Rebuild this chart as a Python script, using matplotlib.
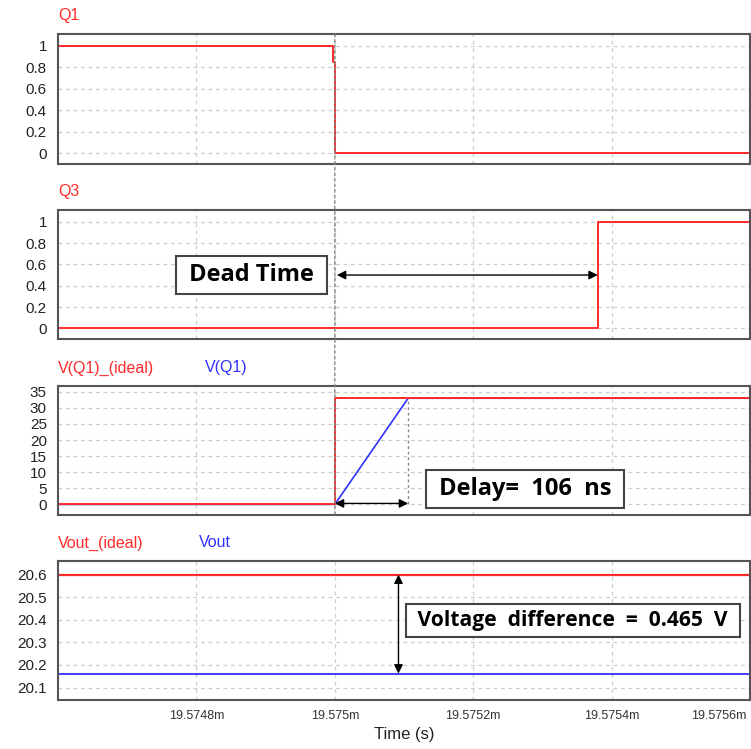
import matplotlib
matplotlib.use("Agg")
import matplotlib.pyplot as plt
from matplotlib.patches import ConnectionPatch
from matplotlib.transforms import ScaledTranslation

# time axis in ms (labels carry the "m" suffix like the simulator)
t_start, t_end = 19.5746, 19.5756
x_ticks = [19.5748, 19.5750, 19.5752, 19.5754, 19.5756]
x_tick_labels = ['19.5748m', '19.575m', '19.5752m', '19.5754m', '19.5756m']

# Q1 gate signal
q1_t = [19.5746, 19.574998, 19.574998, 19.575, 19.575, 19.5756]
q1_v = [1, 1, 0.85, 0.85, 0, 0]

# Q3 gate signal
q3_t = [19.5746, 19.57538, 19.57538, 19.5756]
q3_v = [0, 0, 1, 1]

# switch voltage, ideal and real
vq1_ideal_t = [19.5746, 19.575, 19.575, 19.5756]
vq1_ideal_v = [0, 0, 33, 33]
vq1_t = [19.5746, 19.575, 19.575106, 19.5756]
vq1_v = [0, 0, 33, 33]

# output voltage
vout_t = [19.5746, 19.5756]
vout_ideal_v = [20.600, 20.600]
vout_v = [20.162, 20.162]

gate_ticks = [0, 0.2, 0.4, 0.6, 0.8, 1]
gate_labels = ['0', '0.2', '0.4', '0.6', '0.8', '1']
vq_ticks = [0, 5, 10, 15, 20, 25, 30, 35]
vout_ticks = [20.1, 20.2, 20.3, 20.4, 20.5, 20.6]

RED = '#ff2a2a'
BLUE = '#3030ff'
FRAME = '#555555'

fig = plt.figure(figsize=(7.51, 7.49), dpi=100)
left, width = 58 / 751, 692 / 751
ax1 = fig.add_axes([left, 1 - 164 / 749, width, 130 / 749])
ax2 = fig.add_axes([left, 1 - 339 / 749, width, 129 / 749])
ax3 = fig.add_axes([left, 1 - 515 / 749, width, 129 / 749])
ax4 = fig.add_axes([left, 1 - 700 / 749, width, 139 / 749])

tick_font = ['Liberation Sans', 'DejaVu Sans']
box_font = ['Open Sans', 'DejaVu Sans']

for ax in (ax1, ax2, ax3, ax4):
    ax.set_xlim(t_start, t_end)
    ax.set_xticks(x_ticks)
    for s in ax.spines.values():
        s.set_color(FRAME)
        s.set_linewidth(1.5)
    ax.tick_params(length=0, pad=8, labelsize=11, colors='#222222')
    ax.grid(axis='y', color='#cccccc', linestyle=(0, (3, 3)), linewidth=0.9)
    ax.grid(axis='x', color='#c9d2c2', linestyle=(0, (3, 3)), linewidth=0.9)

for ax in (ax1, ax2, ax3):
    ax.set_xticklabels([])

# panel 1
ax1.plot(q1_t, q1_v, color=RED, lw=1.4)
ax1.set_ylim(-0.1, 1.11)
ax1.set_yticks(gate_ticks, gate_labels, family=tick_font)

# panel 2
ax2.plot(q3_t, q3_v, color=RED, lw=1.4)
ax2.set_ylim(-0.1, 1.11)
ax2.set_yticks(gate_ticks, gate_labels, family=tick_font)

# panel 3
ax3.plot(vq1_t, vq1_v, color=BLUE, lw=1.2)
ax3.plot(vq1_ideal_t, vq1_ideal_v, color=RED, lw=1.4)
ax3.set_ylim(-3.3, 36.8)
ax3.set_yticks(vq_ticks, [str(v) for v in vq_ticks], family=tick_font)

# panel 4
ax4.plot(vout_t, vout_v, color=BLUE, lw=1.3)
ax4.plot(vout_t, vout_ideal_v, color=RED, lw=1.6)
ax4.set_ylim(20.045, 20.66)
ax4.set_yticks(vout_ticks, [f'{v:.1f}' for v in vout_ticks], family=tick_font)
ax4.set_xticklabels(x_tick_labels, family=tick_font, fontsize=9, color='#333333')
ax4.tick_params(axis='x', pad=7)
last = ax4.get_xticklabels()[-1]
last.set_transform(last.get_transform() + ScaledTranslation(-0.31, 0, fig.dpi_scale_trans))
ax4.set_xlabel('Time (s)', family=tick_font, fontsize=12, color='#222222', labelpad=4)

# trace names above each panel
def trace_name(ax, x, text, color):
    ax.annotate(text, xy=(x, 1), xycoords='axes fraction', xytext=(0, 13),
                textcoords='offset points', ha='left', va='center',
                fontsize=11.5, color=color, family=tick_font)

trace_name(ax1, 0, 'Q1', RED)
trace_name(ax2, 0, 'Q3', RED)
trace_name(ax3, 0, 'V(Q1)_(ideal)', RED)
trace_name(ax3, 0.212, 'V(Q1)', BLUE)
trace_name(ax4, 0, 'Vout_(ideal)', RED)
trace_name(ax4, 0.204, 'Vout', BLUE)

# cursor line across the first three panels
t_fall = 19.575
cursor = ConnectionPatch(xyA=(t_fall, 1.11), coordsA=ax1.transData,
                         xyB=(t_fall, -3.3), coordsB=ax3.transData,
                         color='#888888', linestyle=(0, (2, 2)), linewidth=1)
fig.add_artist(cursor)
ax3.plot([vq1_t[2], vq1_t[2]], [0, vq1_v[2]], color='#888888',
         linestyle=(0, (2, 2)), linewidth=1)

arrow = dict(arrowstyle='<|-|>', color='black', lw=1, mutation_scale=13,
             shrinkA=0, shrinkB=0)
box = dict(boxstyle='square,pad=0.3', fc='white', ec='#444444', lw=1.5)

# dead time
ax2.annotate('', xy=(q3_t[1], 0.5), xytext=(t_fall + 0.000003, 0.5), arrowprops=arrow)
ax2.text(19.57488, 0.5, ' Dead Time ', ha='center', va='center', fontsize=17,
         fontweight='bold', family=box_font, bbox=box)

# delay
ax3.annotate('', xy=(vq1_t[2], 0.3), xytext=(t_fall, 0.3), arrowprops=arrow)
ax3.text(19.575275, 4.8, ' Delay=  106  ns ', ha='center', va='center', fontsize=17,
         fontweight='bold', family=box_font, bbox=box)

# voltage difference
ax4.annotate('', xy=(19.575092, vout_v[0]), xytext=(19.575092, vout_ideal_v[0]),
             arrowprops=arrow)
ax4.text(19.575344, 20.397, ' Voltage  difference  =  0.465  V ', ha='center',
         va='center', fontsize=15.1, fontweight='bold', family=box_font, bbox=box)

fig.savefig('out.png', dpi=100)
